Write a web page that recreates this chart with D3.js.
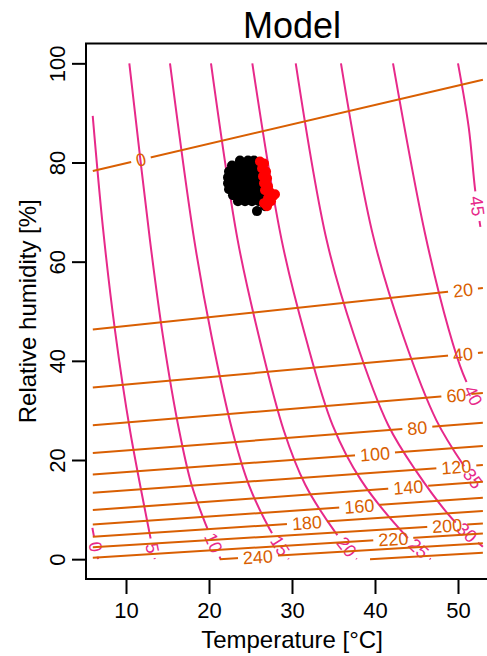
<!DOCTYPE html>
<html>
<head>
<meta charset="utf-8">
<script src="https://cdn.jsdelivr.net/npm/d3@7"></script>
<style>
  html, body { margin: 0; padding: 0; background: #fff; }
  svg { display: block; font-family: "Liberation Sans", Arial, Helvetica, sans-serif; }
</style>
</head>
<body>
<svg id="chart" width="487" height="656"></svg>
<script>
// ---- data -------------------------------------------------------------
const xTicks = [10, 20, 30, 40, 50];
const yTicks = [0, 20, 40, 60, 80, 100];

// contour levels of the first response surface (pink), traced as [T, RH] points
const pinkLevels = [0, 5, 10, 15, 20, 25, 30, 35, 40, 45];
const pinkLines = [
  [[5.95, 6.3], [6.63, 0]],
  [[5.99, 89.4], [7.23, 66.7], [8.67, 46.2], [10.48, 26.0], [12.89, 4.8], [13.46, 0]],
  [[10.4, 100], [12.89, 64.3], [14.45, 45], [16.4, 26], [17.9, 15], [19.64, 6.85], [21.4, 0]],
  [[15.3, 100], [18.23, 64.3], [20.3, 45], [22.8, 26], [24.8, 15], [27.27, 6.2], [29.6, 0]],
  [[20.24, 100], [23.46, 64.3], [26.0, 45], [29.0, 26], [31.6, 15], [35.18, 5.5], [37.8, 0]],
  [[25.22, 100], [28.76, 64.3], [31.6, 45], [34.9, 27], [38.3, 16], [44.0, 4.2], [46.7, 0]],
  [[30.45, 100], [34.18, 64.3], [37.5, 45], [41.6, 27], [44.9, 17.9], [49.43, 7.9], [53.0, 2.5]],
  [[35.9, 100], [39.76, 65.3], [43.4, 45], [47.4, 28], [50.8, 18.6], [52.9, 13.9]],
  [[42.17, 100], [46.0, 65.9], [48.9, 46.2], [50.6, 37.4], [52.6, 30.3]],
  [[50.0, 100], [51.3, 87], [52.05, 74.7], [52.7, 67]]
];
// relative humidity at which each pink label sits
const pinkLabelRH = [2.5, 2.2, 3.3, 2.7, 2.5, 2.2, 5.4, 16.3, 33, 71.2];

// contour levels of the second response surface (orange)
const orangeLevels = [0, 20, 40, 60, 80, 100, 120, 140, 160, 180, 200, 220, 240, 260];
const orangeLines = [
  [[6, 78.3], [53, 96.7]],
  [[6, 46.3], [53, 54.7]],
  [[6, 34.6], [53, 41.7]],
  [[6, 27.0], [53, 33.5]],
  [[6, 21.4], [53, 27.5]],
  [[6, 17.1], [53, 22.8]],
  [[6, 13.4], [53, 19.0]],
  [[6, 9.9], [53, 15.6]],
  [[6, 7.0], [53, 12.4]],
  [[6, 4.5], [53, 9.7]],
  [[6, 2.4], [53, 7.2]],
  [[6, 0.3], [53, 5.2]],
  [[21.3, 0], [53, 3.2]],
  [[39.4, 0], [53, 1.3]]
];
// temperature at which each orange label sits (null = unlabelled)
const orangeLabelT = [11.8, 50.6, 50.6, 49.8, 45.1, 40.0, 49.8, 44.0, 38.1, 31.8, 48.7, 42.2, 25.9, null];

// observed conditions (black)
const obsTemp = [23.73, 24.70, 25.42,
  22.77, 23.49, 24.34, 25.18, 26.02,
  22.41, 23.25, 24.10, 24.94, 25.78,
  22.29, 22.89, 23.73, 24.58, 25.42, 26.14,
  22.29, 23.01, 23.86, 24.70, 25.54, 26.27,
  22.41, 23.25, 24.10, 24.94, 25.78,
  22.89, 23.73, 24.58, 25.42, 26.14,
  23.49, 24.34, 25.18, 26.02,
  25.78, 26.75];
const obsRH = [80.4, 80.4, 80.4,
  79.4, 79.4, 79.4, 79.4, 79.4,
  78.2, 78.2, 78.2, 78.2, 78.2,
  77.0, 77.0, 77.0, 77.0, 77.0, 77.0,
  75.8, 75.8, 75.8, 75.8, 75.8, 75.8,
  74.6, 74.6, 74.6, 74.6, 74.6,
  73.4, 73.4, 73.4, 73.4, 73.4,
  72.2, 72.2, 72.2, 72.2,
  70.2, 71.2];

// modelled conditions (red)
const simTemp = [26.14, 26.63, 26.39, 26.87, 26.51, 26.99, 26.63, 27.11,
  26.75, 27.35, 27.71, 27.95, 27.11, 27.47, 26.63, 26.99];
const simRH = [80.2, 79.8, 78.8, 78.2, 77.2, 76.8, 75.8, 75.2,
  74.4, 74.0, 73.2, 73.6, 72.8, 72.2, 71.8, 71.2];

// ---- layout -----------------------------------------------------------
const W = 487, H = 656;
const plotL = 86, plotR = 498, plotT = 43.5, plotB = 579;
const pink = "#E7298A", orange = "#D95F02";

const x = d3.scaleLinear().domain([5.18, 54.82]).range([plotL, plotR]);
const y = d3.scaleLinear().domain([-4, 104]).range([plotB, plotT]);

const svg = d3.select("#chart");
const defs = svg.append("defs");
const plot = svg.append("g");

const smoothLine = d3.line().x(d => x(d[0])).y(d => y(d[1])).curve(d3.curveCatmullRom.alpha(0.5));
const straightLine = d3.line().x(d => x(d[0])).y(d => y(d[1]));

// position + angle of a label on a traced line; key 0 = given T, key 1 = given RH
function labelAt(pts, key, val) {
  for (let i = 0; i < pts.length - 1; i++) {
    const a = pts[i], b = pts[i + 1];
    const lo = Math.min(a[key], b[key]), hi = Math.max(a[key], b[key]);
    if (val >= lo && val <= hi && hi > lo) {
      const f = (val - a[key]) / (b[key] - a[key]);
      const T = a[0] + f * (b[0] - a[0]);
      const R = a[1] + f * (b[1] - a[1]);
      let ang = Math.atan2(y(b[1]) - y(a[1]), x(b[0]) - x(a[0])) * 180 / Math.PI;
      if (ang > 90) ang -= 180;
      if (ang < -90) ang += 180;
      return { px: x(T), py: y(R), ang };
    }
  }
  return null;
}

function drawContours(name, lines, levels, key, labelVals, color, gen) {
  const g = plot.append("g").attr("class", name);
  const lg = plot.append("g").attr("class", name + "-labels");
  lines.forEach((pts, i) => {
    const pos = labelVals[i] == null ? null : labelAt(pts, key, labelVals[i]);
    let maskId = null;
    if (pos) {
      const t = lg.append("text")
        .attr("transform", `translate(${pos.px},${pos.py}) rotate(${pos.ang})`)
        .attr("text-anchor", "middle")
        .attr("dy", "0.36em")
        .attr("font-size", 18)
        .attr("fill", color)
        .text(levels[i]);
      const w = t.node().getComputedTextLength();
      maskId = `${name}-gap-${i}`;
      const m = defs.append("mask").attr("id", maskId)
        .attr("maskUnits", "userSpaceOnUse")
        .attr("x", 0).attr("y", 0).attr("width", W).attr("height", H);
      m.append("rect").attr("width", W).attr("height", H).attr("fill", "#fff");
      m.append("rect")
        .attr("x", -w / 2 - 5).attr("y", -8).attr("width", w + 10).attr("height", 16)
        .attr("fill", "#000")
        .attr("transform", `translate(${pos.px},${pos.py}) rotate(${pos.ang})`);
    }
    g.append("path").datum(pts)
      .attr("d", gen)
      .attr("fill", "none")
      .attr("stroke", color)
      .attr("stroke-width", 2)
      .attr("mask", maskId ? `url(#${maskId})` : null);
  });
}

drawContours("pink", pinkLines, pinkLevels, 1, pinkLabelRH, pink, smoothLine);
drawContours("orange", orangeLines, orangeLevels, 0, orangeLabelT, orange, straightLine);

// scatter of conditions
const pts = plot.append("g");
pts.selectAll("circle.obs").data(obsTemp.map((t, i) => [t, obsRH[i]])).join("circle")
  .attr("class", "obs").attr("cx", d => x(d[0])).attr("cy", d => y(d[1])).attr("r", 5).attr("fill", "#000");
pts.selectAll("circle.sim").data(simTemp.map((t, i) => [t, simRH[i]])).join("circle")
  .attr("class", "sim").attr("cx", d => x(d[0])).attr("cy", d => y(d[1])).attr("r", 5).attr("fill", "#FF0000");

// frame
svg.append("rect")
  .attr("x", plotL).attr("y", plotT).attr("width", plotR - plotL).attr("height", plotB - plotT)
  .attr("fill", "none").attr("stroke", "#000").attr("stroke-width", 2);

// axes
const xAxis = svg.append("g").attr("transform", `translate(0,${plotB})`)
  .call(d3.axisBottom(x).tickValues(xTicks).tickSize(15).tickFormat(d3.format("d")));
xAxis.select(".domain").remove();
xAxis.selectAll(".tick line").attr("stroke", "#000").attr("stroke-width", 2);
xAxis.selectAll(".tick text").attr("font-size", 22).attr("font-family", null)
  .attr("fill", "#000").attr("y", 39).attr("dy", 0);

const yAxis = svg.append("g").attr("transform", `translate(${plotL},0)`)
  .call(d3.axisLeft(y).tickValues(yTicks).tickSize(14).tickFormat(d3.format("d")));
yAxis.select(".domain").remove();
yAxis.selectAll(".tick line").attr("stroke", "#000").attr("stroke-width", 2);
yAxis.selectAll(".tick text").attr("font-size", 22).attr("font-family", null)
  .attr("fill", "#000").attr("text-anchor", "middle")
  .attr("transform", "rotate(-90)").attr("x", 0).attr("y", -21).attr("dy", 0);

// titles
const midX = (plotL + plotR) / 2, midY = (plotT + plotB) / 2;
svg.append("text").attr("x", midX).attr("y", 38).attr("text-anchor", "middle")
  .attr("font-size", 36).text("Model");
svg.append("text").attr("x", midX).attr("y", 648).attr("text-anchor", "middle")
  .attr("font-size", 24).text("Temperature [°C]");
svg.append("text").attr("transform", `translate(36,${midY}) rotate(-90)`).attr("text-anchor", "middle")
  .attr("font-size", 24).text("Relative humidity [%]");
</script>
</body>
</html>
